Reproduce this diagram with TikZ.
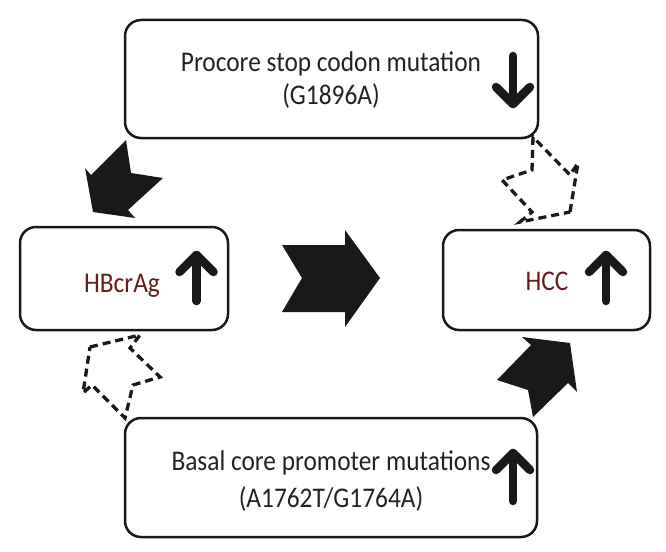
\documentclass[tikz,border=0pt]{standalone}
\usepackage{fontspec}
\setmainfont[FakeStretch=0.89]{Carlito}
\usepackage{xcolor}
\usepackage{tikz}
\usetikzlibrary{shapes,arrows,positioning,calc}

\definecolor{linecol}{RGB}{25,25,25}
\definecolor{txtcol}{RGB}{40,30,40}
\definecolor{redcol}{RGB}{100,30,30}

\begin{document}
\begin{tikzpicture}[x=1pt, y=-1pt,
    box/.style={rectangle, draw=linecol, line width=2.5pt, rounded corners=16pt, inner sep=0pt},
    lab/.style={anchor=base, inner sep=0pt, text=txtcol, font=\fontsize{28.5}{34}\selectfont},
    solidarrow/.style={fill=linecol, draw=none},
    dasharrow/.style={draw=linecol, line width=3.3pt, dash pattern=on 8pt off 5pt, line join=miter},
    updown/.style={draw=linecol, line width=8.5pt, line cap=round, line join=round}]

    \useasboundingbox (0,0) rectangle (666,551);

    % Boxes
    \node[box, minimum width=413pt, minimum height=118pt] (procore) at (331.5,79) {};
    \node[box, minimum width=208pt, minimum height=103pt] (hbcrag) at (124,278.5) {};
    \node[box, minimum width=207pt, minimum height=100pt] (hcc) at (546.5,280) {};
    \node[box, minimum width=412pt, minimum height=119pt] (bcp) at (331,477.5) {};

    % Labels
    \node[lab] (procoreA) at (331,71) {Procore stop codon mutation};
    \node[lab] (procoreB) at (331,104) {(G1896A)};
    \node[lab, text=redcol] (hbcragL) at (122,292) {HBcrAg};
    \node[lab, text=redcol] (hccL) at (547,290) {HCC};
    \node[lab] (bcpA) at (331,470) {Basal core promoter mutations};
    \node[lab] (bcpB) at (331,507) {(A1762T/G1764A)};

    % Up and down marks
    \draw[updown] (513,56) -- (513,104);
    \draw[updown] (496,87) -- (513,104) -- (530,87);
    \draw[updown] (196.5,301) -- (196.5,255);
    \draw[updown] (179.5,272) -- (196.5,255) -- (213.5,272);
    \draw[updown] (606,301) -- (606,255);
    \draw[updown] (589,272) -- (606,255) -- (623,272);
    \draw[updown] (513,501) -- (513,453);
    \draw[updown] (496,470) -- (513,453) -- (530,470);

    % Solid block arrows
    \fill[solidarrow] (380,278) -- (345,327) -- (345,312) -- (282,312) -- (302,278)
        -- (282,245) -- (345,245) -- (345,230) -- cycle;
    \fill[solidarrow] (93,212) -- (85,168) -- (91,175) -- (126,140) -- (131,173)
        -- (163,178) -- (128,210) -- (135,218) -- cycle;
    \fill[solidarrow] (570,343) -- (577,392) -- (568,383) -- (533,417) -- (528,390)
        -- (497,380) -- (531,345) -- (522,337) -- cycle;

    % Dashed block arrows
    \draw[dasharrow] (570,212) -- (578,163) -- (570,175) -- (533,137) -- (532,170)
        -- (502,180) -- (532,212) -- (520,222) -- cycle;
    \draw[dasharrow] (90,347) -- (140,335) -- (130,348) -- (160,377) -- (133,385)
        -- (125,418) -- (92,385) -- (83,393) -- cycle;

\end{tikzpicture}
\end{document}
